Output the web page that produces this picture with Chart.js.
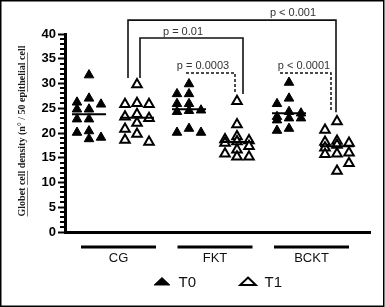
<!DOCTYPE html>
<html>
<head>
<meta charset="utf-8">
<script src="https://cdn.jsdelivr.net/npm/chart.js@4.4.1/dist/chart.umd.min.js"></script>
<style>
  html, body { margin: 0; padding: 0; background: #fff; }
  #wrap { width: 385px; height: 307px; }
</style>
</head>
<body>
<div id="wrap"><canvas id="goblet" width="385" height="307"></canvas></div>
<script>
const groups = ['CG', 'FKT', 'BCKT'];

// goblet cells per 50 epithelial cells, one value per animal
const cgT0 = [31.7, 27.0, 26.2, 25.8, 24.8, 24.8, 22.8, 22.8, 20.4, 20.1, 19.1, 18.8];
const cgT1 = [29.8, 26.0, 25.8, 25.8, 23.8, 23.3, 23.0, 22.0, 20.8, 19.8, 18.6, 18.2];
const fktT0 = [29.9, 27.9, 27.9, 25.9, 25.9, 24.6, 24.5, 24.3, 20.9, 20.1, 20.1];
const fktT1 = [26.4, 21.7, 19.3, 18.7, 18.5, 18.3, 18.0, 17.3, 16.6, 15.8, 15.2, 15.2];
const bcktT0 = [30.2, 27.0, 25.9, 24.3, 24.0, 23.3, 23.0, 23.0, 22.6, 20.9, 20.5];
const bcktT1 = [22.3, 20.6, 18.4, 18.2, 18.0, 17.6, 17.0, 16.0, 15.8, 15.7, 13.9, 12.3];

// horizontal median bars
const medianT0 = [23.8, 24.8, 24.0];
const medianT1 = [23.1, 18.2, 17.3];

const pLabels = ['p < 0.001', 'p = 0.01', 'p = 0.0003', 'p < 0.0001'];
const yTitle = 'Globet cell density (n\u00b0 / 50 epithelial cell';

// where the group names and their underline bars sit (axis units)
const labelAt = [0.055, 1.02, 1.985];

// bracket geometry in axis units (x: group index, y: cell density)
const brackets = [
  { x0: 0.15, x1: 2.23, top: 42.8, y0: 31.1, y1: 24.2, tx: 1.80, ty: 44.3, dashed: false },
  { x0: 0.27, x1: 1.30, top: 39.2, y0: 31.1, y1: 27.9, tx: 0.70, ty: 40.4, dashed: false },
  { x0: 0.73, x1: 1.22, top: 32.1, y0: null, y1: 28.3, tx: 0.90, ty: 33.6, dashed: true },
  { x0: 1.67, x1: 2.18, top: 32.1, y0: null, y1: 24.4, tx: 1.91, ty: 33.6, dashed: true }
];

const OFFSET = 0.24;   // T0 left of group centre, T1 right
const SLOT = 0.12;     // sideways step for overlapping points

// simple dot-plot spreading: put each point in the first column slot with room
function spread(values, centre) {
  const used = { '0': [], '-1': [], '1': [] };
  return values.slice().sort((a, b) => b - a).map(v => {
    let best = 0, bestGap = -1;
    for (const s of [0, -1, 1]) {
      const gap = used[s].length ? Math.min(...used[s].map(u => Math.abs(u - v))) : Infinity;
      if (gap >= 2) { best = s; bestGap = gap; break; }
      if (gap > bestGap) { best = s; bestGap = gap; }
    }
    used[best].push(v);
    return { x: centre + best * SLOT, y: v };
  });
}

const t0Sets = [cgT0, fktT0, bcktT0];
const t1Sets = [cgT1, fktT1, bcktT1];

const datasets = [
  {
    label: 'T0',
    data: t0Sets.flatMap((vals, g) => spread(vals, g - OFFSET)),
    pointStyle: 'triangle',
    pointRadius: 5.5,
    backgroundColor: '#000',
    borderColor: '#000',
    borderWidth: 1,
    order: 1
  },
  {
    label: 'T1',
    data: t1Sets.flatMap((vals, g) => spread(vals, g + OFFSET)),
    pointStyle: 'triangle',
    pointRadius: 5.5,
    backgroundColor: '#fff',
    borderColor: '#000',
    borderWidth: 2,
    order: 1
  }
];

groups.forEach((name, g) => {
  [[medianT0[g], g - OFFSET], [medianT1[g], g + OFFSET]].forEach(([m, cx]) => {
    datasets.push({
      label: 'median',
      data: [{ x: cx - 0.17, y: m }, { x: cx + 0.17, y: m }],
      showLine: true,
      borderColor: '#000',
      borderWidth: 2,
      pointRadius: 0,
      order: 0
    });
  });
});

const extras = {
  id: 'extras',
  afterDraw(chart) {
    const { ctx, chartArea } = chart;
    const xs = chart.scales.x, ys = chart.scales.y;
    ctx.save();

    // minor ticks every 1 unit
    ctx.strokeStyle = '#000';
    ctx.lineWidth = 2;
    for (let v = 1; v < 40; v++) {
      if (v % 5 === 0) continue;
      const py = Math.round(ys.getPixelForValue(v));
      ctx.beginPath();
      ctx.moveTo(chartArea.left - 5, py);
      ctx.lineTo(chartArea.left, py);
      ctx.stroke();
    }

    // group bars under the axis
    ctx.lineWidth = 3;
    labelAt.forEach(c => {
      const y = chartArea.bottom + 15;
      ctx.beginPath();
      ctx.moveTo(xs.getPixelForValue(c - 0.375), y);
      ctx.lineTo(xs.getPixelForValue(c + 0.375), y);
      ctx.stroke();
    });

    // significance brackets
    ctx.font = '11px "Liberation Sans", Arial, sans-serif';
    ctx.textAlign = 'center';
    ctx.textBaseline = 'middle';
    brackets.forEach((b, i) => {
      const x0 = xs.getPixelForValue(b.x0), x1 = xs.getPixelForValue(b.x1);
      const top = ys.getPixelForValue(b.top);
      ctx.strokeStyle = '#111';
      ctx.lineWidth = b.dashed ? 1.5 : 1.6;
      ctx.setLineDash(b.dashed ? [3, 2] : []);
      ctx.beginPath();
      if (b.y0 !== null) {
        ctx.moveTo(x0, ys.getPixelForValue(b.y0));
        ctx.lineTo(x0, top);
      } else {
        ctx.moveTo(x0, top);
      }
      ctx.lineTo(x1, top);
      ctx.lineTo(x1, ys.getPixelForValue(b.y1));
      ctx.stroke();
      ctx.setLineDash([]);
      ctx.fillStyle = '#333';
      ctx.fillText(pLabels[i], xs.getPixelForValue(b.tx), ys.getPixelForValue(b.ty));
    });

    // y axis title, with the word-processor underlines
    ctx.translate(22, 131);
    ctx.rotate(-Math.PI / 2);
    ctx.font = 'bold 10px "Liberation Serif", "Times New Roman", serif';
    ctx.fillStyle = '#1a1a1a';
    ctx.fillText(yTitle, 0, 0);
    const w = ctx.measureText(yTitle).width;
    ctx.strokeStyle = '#d25050';
    ctx.lineWidth = 1;
    [['Globet', 0], ['cell', 7], ['epithelial', 31]].forEach(([word, at]) => {
      const start = -w / 2 + ctx.measureText(yTitle.slice(0, at)).width;
      const ww = ctx.measureText(word).width;
      ctx.beginPath();
      ctx.moveTo(start, 5.5);
      ctx.lineTo(start + ww, 5.5);
      ctx.stroke();
    });
    ctx.restore();

    // picture frame
    ctx.save();
    ctx.strokeStyle = '#000';
    ctx.lineWidth = 1.5;
    ctx.strokeRect(0.75, 0.75, chart.width - 2, chart.height - 1.5);
    ctx.restore();
  }
};

new Chart(document.getElementById('goblet'), {
  type: 'scatter',
  data: { datasets },
  options: {
    responsive: false,
    animation: false,
    layout: { padding: { top: 34, right: 15, bottom: 7, left: 0 } },
    plugins: {
      tooltip: { enabled: false },
      legend: {
        position: 'bottom',
        fullSize: false,
        labels: {
          filter: item => item.text === 'T0' || item.text === 'T1',
          usePointStyle: true,
          pointStyleWidth: 18,
          boxHeight: 7,
          padding: 43,
          color: '#111',
          font: { family: '"Liberation Sans", Arial, sans-serif', size: 15 }
        }
      }
    },
    scales: {
      x: {
        type: 'linear',
        min: -0.48,
        max: 2.57,
        afterBuildTicks: s => { s.ticks = labelAt.map(v => ({ value: v })); },
        afterFit: s => { s.height = 0; },
        ticks: {
          callback: (v, i) => groups[i] ?? '',
          autoSkip: false,
          maxRotation: 0,
          mirror: true,
          padding: -34,
          color: '#111',
          font: { family: '"Liberation Sans", Arial, sans-serif', size: 13 }
        },
        grid: { drawOnChartArea: false, drawTicks: false },
        border: { color: '#000', width: 3 }
      },
      y: {
        min: 0,
        max: 40,
        afterFit: s => { s.width = 65; },
        ticks: {
          stepSize: 5,
          padding: 2,
          color: '#000',
          font: { family: '"Liberation Sans", Arial, sans-serif', size: 13, weight: 'bold' }
        },
        grid: { drawOnChartArea: false, tickLength: 7, tickWidth: 2, tickColor: '#000' },
        border: { color: '#000', width: 3 }
      }
    }
  },
  plugins: [extras]
});
</script>
</body>
</html>
